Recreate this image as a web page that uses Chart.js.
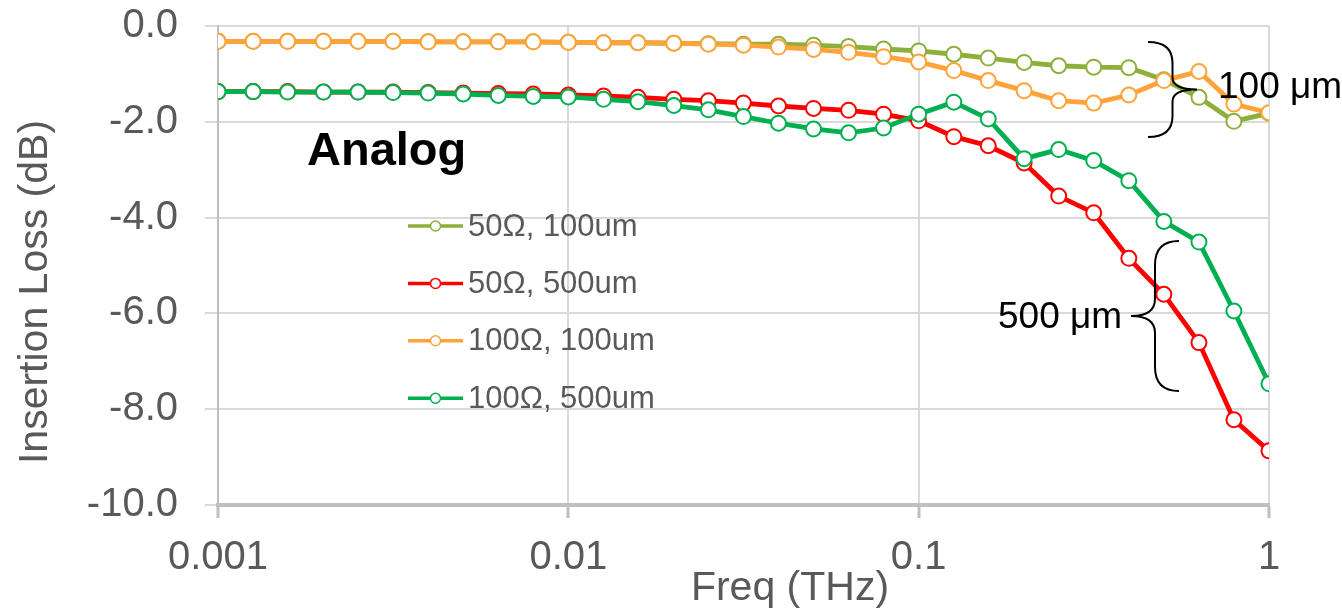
<!DOCTYPE html>
<html>
<head>
<meta charset="utf-8">
<script src="https://cdn.jsdelivr.net/npm/chart.js@4.4.0/dist/chart.umd.min.js"></script>
<style>
  html, body { margin: 0; padding: 0; background: #fff; }
</style>
</head>
<body>
<canvas id="grafico" width="1342" height="611"></canvas>
<script>
// frequencias (THz), 10 pontos por decada
const freq = [0.001, 0.00126, 0.00158, 0.002, 0.00251, 0.00316, 0.00398, 0.00501, 0.00631, 0.00794,
              0.01, 0.0126, 0.0158, 0.02, 0.0251, 0.0316, 0.0398, 0.0501, 0.0631, 0.0794,
              0.1, 0.126, 0.158, 0.2, 0.251, 0.316, 0.398, 0.501, 0.631, 0.794, 1];
const xTicks = [0.001, 0.01, 0.1, 1];

const il50_100 = [-0.32, -0.32, -0.32, -0.32, -0.32, -0.32, -0.33, -0.33, -0.33, -0.33,
                  -0.34, -0.35, -0.35, -0.36, -0.37, -0.38, -0.38, -0.40, -0.43, -0.48,
                  -0.52, -0.59, -0.67, -0.76, -0.83, -0.86, -0.87, -1.12, -1.49, -1.99, -1.82];
const il50_500 = [-1.37, -1.37, -1.37, -1.38, -1.38, -1.38, -1.39, -1.40, -1.41, -1.42,
                  -1.44, -1.46, -1.49, -1.53, -1.56, -1.61, -1.67, -1.72, -1.76, -1.84,
                  -1.98, -2.31, -2.50, -2.86, -3.55, -3.90, -4.85, -5.60, -6.61, -8.22, -8.87];
const il100_100 = [-0.32, -0.32, -0.32, -0.32, -0.32, -0.32, -0.33, -0.33, -0.33, -0.33,
                   -0.34, -0.35, -0.35, -0.36, -0.38, -0.40, -0.44, -0.49, -0.55, -0.64,
                   -0.75, -0.93, -1.14, -1.35, -1.56, -1.61, -1.44, -1.14, -0.95, -1.63, -1.81];
const il100_500 = [-1.37, -1.37, -1.38, -1.38, -1.38, -1.39, -1.40, -1.42, -1.45, -1.47,
                   -1.48, -1.53, -1.58, -1.66, -1.75, -1.89, -2.03, -2.15, -2.23, -2.13,
                   -1.84, -1.59, -1.94, -2.77, -2.58, -2.81, -3.23, -4.08, -4.51, -5.95, -7.47];

const legendas = ['50Ω, 100um', '50Ω, 500um', '100Ω, 100um', '100Ω, 500um'];
const cores = ['#8db03a', '#ff0000', '#ffa33a', '#00b050'];
const series = [il50_100, il50_500, il100_100, il100_500];

const FONTE = '"Liberation Sans", Arial, sans-serif';
const CINZA = '#595959';

function chave(ctx, tipX, yTop, yBot, w, dir, r1, r2) {
    // dir = 1 -> "}" (ponta para a direita), dir = -1 -> "{"
    const xe = tipX - dir * w;
    const xm = tipX - dir * w / 2;
    const yMid = (yTop + yBot) / 2;
    ctx.beginPath();
    ctx.moveTo(xe, yTop);
    ctx.quadraticCurveTo(xm, yTop, xm, yTop + r1);
    ctx.lineTo(xm, yMid - r2);
    ctx.quadraticCurveTo(xm, yMid, tipX, yMid);
    ctx.quadraticCurveTo(xm, yMid, xm, yMid + r2);
    ctx.lineTo(xm, yBot - r1);
    ctx.quadraticCurveTo(xm, yBot, xe, yBot);
    ctx.stroke();
}

const extras = {
    id: 'extras',
    afterDraw(chart) {
        const ctx = chart.ctx;
        ctx.save();

        // titulos dos eixos
        ctx.fillStyle = CINZA;
        ctx.font = '41px ' + FONTE;
        ctx.textAlign = 'center';
        ctx.textBaseline = 'alphabetic';
        ctx.fillText('Freq (THz)', 790, 600);
        ctx.save();
        ctx.translate(47, 292);
        ctx.rotate(-Math.PI / 2);
        ctx.fillText('Insertion Loss (dB)', 0, 0);
        ctx.restore();

        // legenda dentro da area do grafico
        const linhas = [226, 283.4, 340.8, 398.2];
        legendas.forEach((txt, i) => {
            const y = linhas[i];
            ctx.strokeStyle = cores[i];
            ctx.lineWidth = 3.5;
            ctx.beginPath();
            ctx.moveTo(408, y);
            ctx.lineTo(463, y);
            ctx.stroke();
            ctx.beginPath();
            ctx.arc(435.5, y, 5, 0, Math.PI * 2);
            ctx.fillStyle = '#fff';
            ctx.fill();
            ctx.lineWidth = 1.5;
            ctx.stroke();
            ctx.fillStyle = CINZA;
            ctx.font = '31px ' + FONTE;
            ctx.textAlign = 'left';
            ctx.textBaseline = 'middle';
            ctx.fillText(txt, 468, y + 1);
        });

        // texto "Analog"
        ctx.fillStyle = '#000';
        ctx.font = 'bold 47px ' + FONTE;
        ctx.textAlign = 'left';
        ctx.textBaseline = 'alphabetic';
        ctx.fillText('Analog', 307, 165);

        // chaves e rotulos
        ctx.strokeStyle = '#000';
        ctx.lineWidth = 2;
        chave(ctx, 1197, 42, 137, 49, 1, 21, 12);
        chave(ctx, 1131, 241, 391, 48, -1, 24, 17);
        ctx.font = '37px ' + FONTE;
        ctx.fillText('100 μm', 1218, 98);
        ctx.fillText('500 μm', 998, 328);

        ctx.restore();
    }
};

const ctx = document.getElementById('grafico').getContext('2d');
new Chart(ctx, {
    type: 'line',
    data: {
        labels: freq,
        datasets: series.map((s, i) => ({
            label: legendas[i],
            data: freq.map((f, j) => ({ x: f, y: s[j] })),
            borderColor: cores[i],
            borderWidth: 4.8,
            pointRadius: 7.5,
            pointBorderWidth: 2,
            pointBackgroundColor: '#fff',
            pointBorderColor: cores[i],
            tension: 0,
            order: 4 - i
        }))
    },
    options: {
        responsive: false,
        animation: false,
        layout: { padding: { top: 26, right: 73, left: 0, bottom: 0 } },
        plugins: {
            legend: { display: false },
            tooltip: { enabled: false }
        },
        scales: {
            x: {
                type: 'logarithmic',
                min: 0.001,
                max: 1,
                afterBuildTicks: axis => { axis.ticks = xTicks.map(v => ({ value: v })); },
                afterFit: scale => { scale.height = 106; },
                ticks: {
                    autoSkip: false,
                    maxRotation: 0,
                    padding: 16,
                    color: CINZA,
                    font: { family: FONTE, size: 40 },
                    callback: v => String(v)
                },
                grid: {
                    color: '#d9d9d9',
                    lineWidth: 2,
                    tickLength: 13,
                    tickColor: '#bfbfbf',
                    tickWidth: 3
                },
                border: { color: '#bfbfbf', width: 4 }
            },
            y: {
                min: -10,
                max: 0,
                afterFit: scale => {
                    scale.width = 218;
                    scale.paddingTop = 0;
                    scale.paddingBottom = 0;
                },
                ticks: {
                    stepSize: 2,
                    padding: 27,
                    color: CINZA,
                    font: { family: FONTE, size: 40 },
                    callback: v => v.toFixed(1)
                },
                grid: {
                    color: '#d9d9d9',
                    lineWidth: 2,
                    tickLength: 13
                },
                border: { color: '#bfbfbf', width: 2 }
            }
        }
    },
    plugins: [extras]
});
</script>
</body>
</html>
